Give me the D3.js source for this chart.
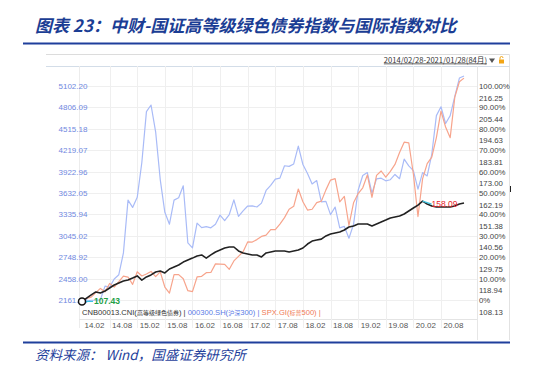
<!DOCTYPE html>
<html>
<head>
<meta charset="utf-8">
<script src="https://cdn.jsdelivr.net/npm/d3@7"></script>
<style>
  body { margin: 0; background: #fff; }
  text { font-family: "Noto Sans CJK SC", "Noto Sans", sans-serif; }
  .num { font-family: "Liberation Sans", Arial, sans-serif; }
</style>
</head>
<body>
<div id="chart"></div>
<script>
// monthly points, 2014/02 .. 2021/01 (84 months)
var bondValues = [
  107.43, 109.1, 110.7, 112.2, 111.7, 112.7, 114.2, 115.7, 116.7, 117.7, 118.2,
  119.2, 120.3, 118.2, 119.8, 120.8, 122.3, 122.8, 121.8, 123.8, 124.8, 125.8, 127.3,
  128.3, 129.3, 130.4, 130.9, 129.3, 130.9, 132.4, 133.4, 134.4, 134.9, 134.9, 132.9,
  131.9, 131.4, 130.9, 130.9, 129.9, 131.9, 132.4, 132.9, 132.9, 132.9, 132.4, 132.9,
  133.4, 134.4, 136.4, 137.9, 138.4, 138.9, 140.5, 141.5, 142.0, 142.5, 143.5, 145.0,
  145.5, 146.5, 146.5, 146.5, 145.5, 146.5, 147.5, 148.5, 149.6, 150.1, 150.6, 151.6,
  153.1, 154.6, 156.1, 158.09, 156.6, 155.6, 155.1, 155.1, 155.1, 155.1, 155.6, 156.6,
  157.1
];
var csiValues = [
  2178.97, 2146.30, 2158.66, 2160.04, 2165.12, 2352.00, 2338.23, 2450.99, 2508.80, 2808.82, 3533.71,
  3434.39, 3572.84, 4051.20, 4749.89, 4840.83, 4473.00, 3816.70, 3366.54, 3202.95, 3534.08, 3566.41, 3731.00,
  2946.09, 2877.47, 3218.09, 3156.75, 3169.56, 3153.92, 3203.93, 3327.79, 3253.28, 3336.28, 3538.00, 3310.08,
  3387.17, 3452.81, 3456.05, 3439.75, 3492.88, 3666.80, 3737.87, 3822.09, 3836.50, 4006.72, 3998.14, 4030.85,
  4275.90, 4023.64, 3898.50, 3756.88, 3802.39, 3510.98, 3517.66, 3334.50, 3438.86, 3153.82, 3172.69, 3010.65,
  3201.63, 3669.37, 3872.34, 3913.21, 3629.79, 3825.59, 3835.36, 3799.59, 3814.53, 3886.75, 3828.67, 4096.58,
  4003.90, 3940.05, 3686.16, 3912.58, 3867.02, 4163.96, 4695.05, 4816.75, 4587.40, 4695.33, 4960.25, 5211.29,
  5240.00
];
var spxValues = [
  1859.45, 1872.34, 1883.95, 1923.57, 1960.23, 1930.67, 2003.37, 1972.29, 2018.05, 2067.56, 2058.90,
  1994.99, 2104.50, 2067.89, 2085.51, 2107.39, 2063.11, 2103.84, 1972.18, 1920.03, 2079.36, 2080.41, 2043.94,
  1940.24, 1932.23, 2059.74, 2065.30, 2096.95, 2098.86, 2173.60, 2170.95, 2168.27, 2126.15, 2198.81, 2238.83,
  2278.87, 2363.64, 2362.72, 2384.20, 2411.80, 2423.41, 2470.30, 2471.65, 2519.36, 2575.26, 2647.58, 2673.61,
  2823.81, 2713.83, 2640.87, 2648.05, 2705.27, 2718.37, 2816.29, 2901.52, 2913.98, 2711.74, 2760.17, 2506.85,
  2704.10, 2784.49, 2834.40, 2945.83, 2752.06, 2941.76, 2980.38, 2926.46, 2976.74, 3037.56, 3140.98, 3230.78,
  3225.52, 2954.22, 2584.59, 2912.43, 3044.31, 3100.29, 3271.12, 3500.31, 3363.00, 3269.96, 3621.63, 3756.07,
  3787.38
];

var xTickLabels = ["14.02", "14.08", "15.02", "15.08", "16.02", "16.08", "17.02", "17.08",
                   "18.02", "18.08", "19.02", "19.08", "20.02", "20.08"];
var leftTickLabels = ["5102.20", "4806.09", "4515.18", "4219.07", "3922.96", "3632.05",
                      "3335.94", "3045.02", "2748.92", "2458.00", "2161.83"];
var pctTickLabels = ["100.00%", "90.00%", "80.00%", "70.00%", "60.00%", "50.00%",
                     "40.00%", "30.00%", "20.00%", "10.00%", "0%"];
var bondTickLabels = ["216.25", "205.44", "194.63", "183.81", "173.00", "162.19",
                      "151.38", "140.56", "129.75", "118.94", "108.13"];
var seriesNames = ["CNB00013.CNI(高等级绿色债券) | ", "000300.SH(沪深300) | ", "SPX.GI(标普500) |"];

var title = "图表 23：中财-国证高等级绿色债券指数与国际指数对比";
var source = "资料来源：  Wind，国盛证券研究所";
var dateRange = "2014/02/28-2021/01/28(84月)";

var width = 550, height = 371;
var plot = {left: 79, right: 477, top: 66, bottom: 319};

var svg = d3.select("#chart").append("svg")
    .attr("width", width)
    .attr("height", height);

// title + rules
svg.append("text")
    .attr("x", 35).attr("y", 32)
    .attr("font-size", 17).attr("font-weight", "bold").attr("font-style", "italic")
    .attr("fill", "#1b3d94")
    .text(title);
svg.append("line").attr("x1", 23).attr("x2", 510).attr("y1", 43.5).attr("y2", 43.5)
    .attr("stroke", "#1f3f9c").attr("stroke-width", 2);
svg.append("line").attr("x1", 23).attr("x2", 510).attr("y1", 342.5).attr("y2", 342.5)
    .attr("stroke", "#1f3f9c").attr("stroke-width", 2);
svg.append("text")
    .attr("x", 35).attr("y", 360)
    .attr("font-size", 13.5).attr("font-style", "italic")
    .attr("fill", "#1f3f9c")
    .text(source);

// panel frame
var frame = svg.append("g").attr("fill", "none");
frame.append("line").attr("x1", 46).attr("x2", 509.5).attr("y1", 54.5).attr("y2", 54.5).attr("stroke", "#dcdcdc");
frame.append("line").attr("x1", 509.5).attr("x2", 509.5).attr("y1", 54.5).attr("y2", 340).attr("stroke", "#e2e2e2");
frame.append("line").attr("x1", 46).attr("x2", 509.5).attr("y1", plot.top + 0.5).attr("y2", plot.top + 0.5).attr("stroke", "#d3dde8");
frame.append("line").attr("x1", plot.left + 0.5).attr("x2", plot.left + 0.5).attr("y1", plot.top).attr("y2", 328).attr("stroke", "#ececec");
frame.append("line").attr("x1", plot.right + 0.5).attr("x2", plot.right + 0.5).attr("y1", plot.top).attr("y2", 340).attr("stroke", "#e6e6e6");
frame.append("line").attr("x1", plot.left).attr("x2", plot.right).attr("y1", plot.bottom + 0.5).attr("y2", plot.bottom + 0.5).attr("stroke", "#e4e4e4");

// header date range
svg.append("text")
    .attr("x", 487).attr("y", 62.5)
    .attr("text-anchor", "end")
    .attr("font-size", 7.6).attr("fill", "#333")
    .attr("text-decoration", "underline")
    .text(dateRange);
svg.append("path").attr("d", "M489,58.5 L495,58.5 L492,63 Z").attr("fill", "#555");
svg.append("rect").attr("x", 499).attr("y", 59.5).attr("width", 5).attr("height", 4).attr("fill", "#f2a516");
svg.append("path").attr("d", "M500,59.5 v-1.5 a1.5,1.5 0 0 1 3,0").attr("fill", "none").attr("stroke", "#f2a516");
svg.append("line").attr("x1", 510.5).attr("x2", 510.5).attr("y1", 186).attr("y2", 192).attr("stroke", "#222");

// scales
var months = d3.range(csiValues.length);
var x = d3.scalePoint().domain(months).range([82, 464]);
var yPct = d3.scaleLinear().domain([0, 1]).range([300, 86]);
var yCsi = d3.scaleLinear().domain([2161.8, 5102.2]).range([300, 86]);
var ySpx = d3.scaleLinear().domain([spxValues[0], spxValues[0] * 2]).range([300, 86]);
var yBond = d3.scaleLinear().domain([108.13, 216.25]).range([300, 86]);

// grid
var gridVals = yPct.ticks(10).reverse();
svg.append("g").selectAll("line").data(gridVals).join("line")
    .attr("x1", plot.left).attr("x2", plot.right)
    .attr("y1", function(d) { return Math.round(yPct(d)) + 0.5; })
    .attr("y2", function(d) { return Math.round(yPct(d)) + 0.5; })
    .attr("stroke", "#efefef");

var xTicks = xTickLabels.map(function(l, i) { return {label: l, m: i * 6}; });
svg.append("g").selectAll("line").data(xTicks.slice(1)).join("line")
    .attr("x1", function(d) { return Math.round(x(d.m)) + 0.5; })
    .attr("x2", function(d) { return Math.round(x(d.m)) + 0.5; })
    .attr("y1", plot.top).attr("y2", 328)
    .attr("stroke", "#efefef");

svg.append("g").selectAll("text").data(xTicks).join("text")
    .attr("class", "num")
    .attr("x", function(d) { return x(d.m) + 2.5; })
    .attr("y", 328)
    .attr("font-size", 8).attr("fill", "#555")
    .text(function(d) { return d.label; });

// axis labels
svg.append("g").selectAll("text").data(leftTickLabels).join("text")
    .attr("class", "num")
    .attr("x", 58.5)
    .attr("y", function(d, i) { return yPct(gridVals[i]) + 3; })
    .attr("font-size", 8).attr("fill", "#6f88e0")
    .text(function(d) { return d; });
svg.append("g").selectAll("text").data(pctTickLabels).join("text")
    .attr("class", "num")
    .attr("x", 479)
    .attr("y", function(d, i) { return yPct(gridVals[i]) + 3; })
    .attr("font-size", 7.8).attr("fill", "#444")
    .text(function(d) { return d; });
svg.append("g").selectAll("text").data(bondTickLabels).join("text")
    .attr("class", "num")
    .attr("x", 479)
    .attr("y", function(d, i) { return yPct(gridVals[i]) + 14.5; })
    .attr("font-size", 7.8).attr("fill", "#444")
    .text(function(d) { return d; });

// series lines
function drawLine(values, yScale, color, w) {
  svg.append("path")
      .datum(values)
      .attr("fill", "none")
      .attr("stroke", color)
      .attr("stroke-width", w)
      .attr("stroke-linejoin", "round")
      .attr("d", d3.line()
          .x(function(d, i) { return x(i); })
          .y(function(d) { return yScale(d); }));
}
drawLine(csiValues, yCsi, "#a9bbf7", 1.2);
drawLine(spxValues, ySpx, "#f7a48c", 1.2);
drawLine(bondValues, yBond, "#222", 1.6);

// min / max markers on bond series
var minI = d3.minIndex(bondValues), maxI = d3.maxIndex(bondValues);
var fmt = d3.format(".2f");
svg.append("line")
    .attr("x1", x(minI) + 3).attr("x2", x(minI) + 11)
    .attr("y1", yBond(bondValues[minI])).attr("y2", yBond(bondValues[minI]))
    .attr("stroke", "#3cc3e0").attr("stroke-width", 1.2);
svg.append("circle")
    .attr("cx", x(minI)).attr("cy", yBond(bondValues[minI])).attr("r", 3.5)
    .attr("fill", "#fff").attr("stroke", "#111").attr("stroke-width", 1.5);
svg.append("text")
    .attr("class", "num")
    .attr("x", x(minI) + 12).attr("y", yBond(bondValues[minI]) + 3)
    .attr("font-size", 8.5).attr("font-weight", "bold").attr("fill", "#22a046")
    .text(fmt(bondValues[minI]));
svg.append("line")
    .attr("x1", x(maxI)).attr("x2", x(maxI) + 9)
    .attr("y1", yBond(bondValues[maxI])).attr("y2", yBond(bondValues[maxI]) + 3)
    .attr("stroke", "#3cc3e0").attr("stroke-width", 1.2);
svg.append("text")
    .attr("class", "num")
    .attr("x", x(maxI) + 9).attr("y", yBond(bondValues[maxI]) + 6)
    .attr("font-size", 8.5).attr("fill", "#e8232a")
    .text(fmt(bondValues[maxI]));

// legend: latin runs normal size, CJK runs smaller (as in the Wind export)
var legendColors = ["#333", "#5b7be6", "#f07a55"];
var runs = [];
seriesNames.forEach(function(name, i) {
  name.split(/([\u4e00-\u9fff]+)/).forEach(function(part) {
    if (part) runs.push({text: part, color: legendColors[i], cjk: /[\u4e00-\u9fff]/.test(part)});
  });
});
svg.append("text")
    .attr("class", "num")
    .attr("x", 82).attr("y", 315)
    .attr("font-size", 7.6)
    .attr("xml:space", "preserve")
  .selectAll("tspan").data(runs).join("tspan")
    .attr("fill", function(d) { return d.color; })
    .attr("font-size", function(d) { return d.cjk ? 6 : 7.6; })
    .style("font-family", function(d) { return d.cjk ? "'Noto Sans CJK SC'" : null; })
    .text(function(d) { return d.text; });
</script>
</body>
</html>
